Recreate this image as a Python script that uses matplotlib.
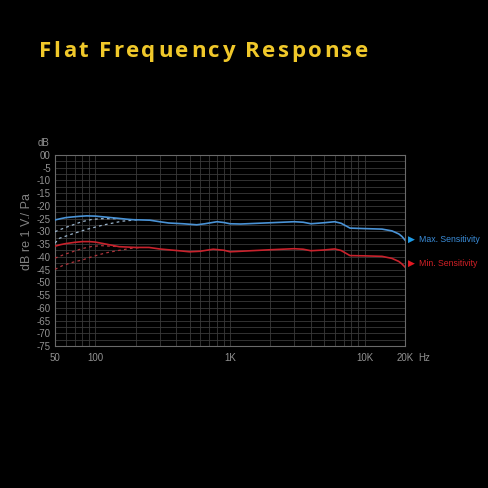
import matplotlib
matplotlib.use('Agg')
import matplotlib.pyplot as plt

# ---------------- data ----------------
title_text = "Flat Frequency Response"

freq_max = [50, 55, 60, 65, 75, 86, 100, 120, 144, 170, 190, 254, 300, 350, 448, 566,
            650, 800, 900, 1000, 1200, 2000, 3000, 3500, 4000, 5000, 6000, 6700, 7800,
            10000, 13500, 16000, 18000, 19000, 20000]
db_max = [-25.5, -25.0, -24.6, -24.4, -24.1, -23.9, -24.0, -24.4, -24.8, -25.2, -25.4,
          -25.6, -26.2, -26.7, -27.0, -27.4, -27.0, -26.2, -26.5, -27.0, -27.1, -26.6,
          -26.2, -26.4, -27.0, -26.6, -26.2, -26.8, -28.7, -28.9, -29.1, -29.8, -31.0,
          -32.0, -33.4]

freq_min = [50, 55, 60, 70, 80, 90, 100, 120, 150, 200, 250, 300, 400, 500, 600, 750,
            900, 1000, 1200, 2000, 3000, 3500, 4000, 5000, 6000, 6700, 7800, 10000,
            13500, 16000, 18000, 19000, 20000]
db_min = [-35.8, -35.2, -34.8, -34.3, -34.0, -34.0, -34.2, -35.0, -36.0, -36.3, -36.3,
          -36.9, -37.5, -38.0, -37.8, -37.0, -37.4, -38.0, -37.8, -37.2, -36.8, -37.0,
          -37.6, -37.3, -36.9, -37.5, -39.5, -39.6, -39.8, -40.6, -41.8, -42.8, -44.0]

# low-cut (dashed) curves
cut1_freq = [50, 59, 79, 94, 111, 150]
cut1_db_max = [-30.1, -28.6, -26.2, -25.3, -25.0, -25.0]
cut1_db_min = [-40.5, -39.0, -36.8, -35.9, -35.6, -36.0]

cut2_freq_max = [50, 54, 68, 86, 114, 157, 181, 210]
cut2_db_max = [-34.6, -32.7, -30.9, -29.2, -27.5, -26.0, -25.7, -25.4]
cut2_freq_min = [50, 57, 68, 81, 96, 118, 144, 181, 210]
cut2_db_min = [-44.9, -43.4, -42.1, -41.1, -39.8, -38.5, -37.6, -36.7, -36.4]

x_ticks = [50, 100, 1000, 10000, 20000]
x_tick_labels = ["50", "100", "1K", "10K", "20K"]
y_ticks = [0, -5, -10, -15, -20, -25, -30, -35, -40, -45, -50, -55, -60, -65, -70, -75]
y_tick_labels = ["00"] + [str(v) for v in y_ticks[1:]]
legend_labels = ["Max. Sensitivity", "Min. Sensitivity"]

# ---------------- style ----------------
BLUE = '#4a93d6'
RED = '#c8222c'
GRID = '#3a3a3a'
TXT = '#929292'
FONT = 'Liberation Sans'

fig = plt.figure(figsize=(4.88, 4.88), dpi=100, facecolor='black')
W = H = 488.0
ax = fig.add_axes([55 / W, 1 - 346 / H, 350 / W, 191 / H])
ax.set_facecolor('black')

ax.set_xscale('log')
ax.set_xlim(50, 20000)
ax.set_ylim(-75, 0)

minor_x = [m * d for d in (10, 100, 1000) for m in range(2, 10)] + [10000]
minor_x = [v for v in minor_x if 50 <= v <= 10000]
ax.set_xticks(x_ticks)
ax.set_xticklabels(x_tick_labels)
ax.set_xticks(minor_x, minor=True)
ax.set_yticks(y_ticks)
ax.set_yticklabels(y_tick_labels)
ax.set_yticks([v - 2.5 for v in y_ticks[:-1]], minor=True)

ax.grid(True, which='both', color=GRID, linewidth=0.6)
ax.tick_params(which='both', length=0, colors=TXT, labelsize=7, pad=3)
ax.tick_params(axis='x', pad=5)
for lab in ax.get_xticklabels() + ax.get_yticklabels():
    lab.set_fontfamily(FONT)
for s in ax.spines.values():
    s.set_color('#6a6a6a')
    s.set_linewidth(0.8)

# curves
ax.plot(freq_max, db_max, color=BLUE, linewidth=1.2, zorder=5)
ax.plot(freq_min, db_min, color=RED, linewidth=1.2, zorder=5)
dash = (0, (2.2, 2.6))
ax.plot(cut1_freq, cut1_db_max, color='#9ab4cc', linewidth=0.9, linestyle=dash, zorder=4)
ax.plot(cut2_freq_max, cut2_db_max, color='#9ab4cc', linewidth=0.9, linestyle=dash, zorder=4)
ax.plot(cut1_freq, cut1_db_min, color='#b0343c', linewidth=0.9, linestyle=dash, zorder=4)
ax.plot(cut2_freq_min, cut2_db_min, color='#b0343c', linewidth=0.9, linestyle=dash, zorder=4)

# axis annotations
fig.text(44 / W, 1 - 143.5 / H, "dB", color=TXT, fontsize=7, family=FONT,
         ha='center', va='center')
fig.text(424 / W, 1 - 358 / H, "Hz", color=TXT, fontsize=7, family=FONT,
         ha='center', va='center')
fig.text(27 / W, 1 - 232 / H, "dB re 1 V./ Pa", color='#828282', fontsize=9,
         family=FONT, rotation=90, ha='center', va='center')

# legend markers
fig.text(411.5 / W, 1 - 239.5 / H, "\u25b6", color='#1e9be6', fontsize=6.5,
         family='DejaVu Sans', ha='center', va='center')
fig.text(419 / W, 1 - 239.5 / H, legend_labels[0], color='#3a8cd8', fontsize=6.3,
         family=FONT, ha='left', va='center')
fig.text(411.5 / W, 1 - 263 / H, "\u25b6", color='#e41822', fontsize=6.5,
         family='DejaVu Sans', ha='center', va='center')
fig.text(419 / W, 1 - 263 / H, legend_labels[1], color='#d02026', fontsize=6.3,
         family=FONT, ha='left', va='center')

# title with letter spacing
fig.canvas.draw()
r = fig.canvas.get_renderer()
tkw = dict(fontsize=16, family='Open Sans', weight='bold', color='#f0c82a')


def wpx(s):
    t = fig.text(0, 0, s, **tkw)
    w = t.get_window_extent(r).width
    t.remove()
    return w


base = wpx('l')
positions = [wpx(title_text[:i] + 'l') - base if i else 0 for i in range(len(title_text))]
natural = wpx(title_text)
target = 329.0
sp = (target - natural) / (len(title_text) - 1)
x0 = 39.0
ybase = 1 - 57.3 / H
for i, ch in enumerate(title_text):
    if ch == ' ':
        continue
    fig.text((x0 + positions[i] + sp * i) / W, ybase, ch, ha='left', va='baseline', **tkw)

fig.savefig('out.png', dpi=100, facecolor='black')
